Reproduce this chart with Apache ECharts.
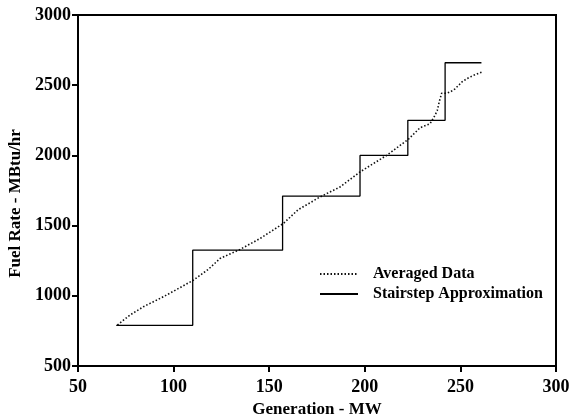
<!DOCTYPE html>
<html>
<head>
<meta charset="utf-8">
<script src="https://cdn.jsdelivr.net/npm/echarts@6/dist/echarts.min.js"></script>
<style>
html, body { margin: 0; padding: 0; background: #fff; }
#chart { width: 577px; height: 419px; }
</style>
</head>
<body>
<div id="chart"></div>
<script>
// averaged data (MW, MBtu/hr)
var avgX = [70.6, 77.2, 84.2, 87.7, 94.6, 101.6, 110.3, 118.1, 124.3, 134.7, 145.2, 157.4, 165.2,
	176.6, 187, 197.5, 204.4, 211.4, 222.8, 228.9, 234.1, 236.7, 237.9, 239, 240.2, 242.8, 244.6,
	247.2, 250.7, 253.3, 256.7, 261.1];
var avgY = [792, 863, 922, 946, 993, 1045, 1111, 1188, 1266, 1330, 1408, 1515, 1614,
	1704, 1775, 1882, 1941, 2000, 2115, 2197, 2225, 2285, 2320, 2386, 2443, 2443, 2451,
	2474, 2522, 2546, 2569, 2593];

// stairstep approximation: step start points
var stairX = [70, 110, 157, 197.5, 222.5, 242, 261];
var stairY = [790, 1325, 1710, 2000, 2250, 2660, 2660];

var xTicks = [50, 100, 150, 200, 250, 300];
var yTicks = [500, 1000, 1500, 2000, 2500, 3000];

function pairs(xs, ys){
	var out = [];
	for (var i = 0; i < xs.length; i++) out.push([xs[i], ys[i]]);
	return out;
}

var serif = '"Liberation Serif", "DejaVu Serif", serif';

var chart = echarts.init(document.getElementById('chart'));
chart.setOption({
	animation: false,
	grid: {
		left: 78, right: 21, top: 15, bottom: 53,
		outerBoundsMode: 'none',
		show: true, borderColor: '#000', borderWidth: 2
	},
	legend: {
		orient: 'vertical',
		left: 314, top: 261,
		itemWidth: 38, itemHeight: 12, itemGap: 4,
		itemStyle: { opacity: 0 },
		textStyle: { fontFamily: serif, fontWeight: 'bold', fontSize: 16, color: '#000', padding: [0, 0, 0, 10] },
		data: ['Averaged Data', 'Stairstep Approximation']
	},
	xAxis: {
		type: 'value',
		min: xTicks[0], max: xTicks[xTicks.length - 1], interval: 50,
		name: 'Generation - MW', nameLocation: 'middle', nameGap: 35,
		nameTextStyle: { fontFamily: serif, fontWeight: 'bold', fontSize: 17, color: '#000' },
		axisLine: { lineStyle: { color: '#000', width: 2 } },
		axisTick: { inside: false, length: 6, lineStyle: { color: '#000', width: 2 } },
		axisLabel: { margin: 12, fontFamily: serif, fontWeight: 'bold', fontSize: 18, color: '#000' },
		splitLine: { show: false }
	},
	yAxis: {
		type: 'value',
		min: yTicks[0], max: yTicks[yTicks.length - 1], interval: 500,
		name: 'Fuel Rate - MBtu/hr', nameLocation: 'middle', nameGap: 50,
		nameTextStyle: { fontFamily: serif, fontWeight: 'bold', fontSize: 17, color: '#000', padding: [0, 26, 0, 0] },
		axisLine: { lineStyle: { color: '#000', width: 2 } },
		axisTick: { inside: false, length: 6, lineStyle: { color: '#000', width: 2 } },
		axisLabel: {
			margin: 7, fontFamily: serif, fontWeight: 'bold', fontSize: 18, color: '#000',
			formatter: function(v){ return String(v); }
		},
		splitLine: { show: false }
	},
	series: [{
		name: 'Averaged Data',
		type: 'line',
		symbol: 'none',
		lineStyle: { color: '#111', width: 1.6, type: [1.5, 2] },
		itemStyle: { color: '#111' },
		data: pairs(avgX, avgY)
	}, {
		name: 'Stairstep Approximation',
		type: 'line',
		step: 'end',
		symbol: 'none',
		lineStyle: { color: '#000', width: 1.3 },
		itemStyle: { color: '#000' },
		data: pairs(stairX, stairY)
	}]
});
</script>
</body>
</html>
